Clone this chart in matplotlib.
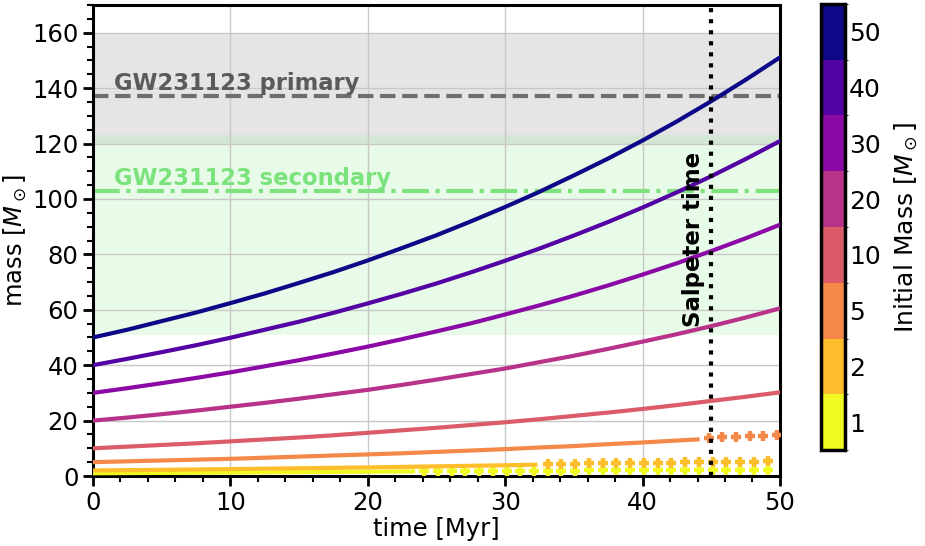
import numpy as np
import matplotlib
matplotlib.use("Agg")
import matplotlib.pyplot as plt
from matplotlib.colors import ListedColormap, BoundaryNorm
from matplotlib.ticker import AutoMinorLocator, MultipleLocator

# ---- data ----
initial_masses = [1, 2, 5, 10, 20, 30, 40, 50]
cbar_labels = ["1", "2", "5", "10", "20", "30", "40", "50"]

t_grid = [0, 2.5, 5, 7.5, 10, 12.5, 15, 17.5, 20, 22.5, 25, 27.5, 30, 32.5,
          35, 37.5, 40, 42.5, 45, 47.5, 50]
mass_50 = [50, 52.8, 55.9, 59.0, 62.4, 65.9, 69.7, 73.6, 77.8, 82.3, 86.9,
           91.9, 97.1, 102.6, 108.5, 114.6, 121.1, 128.0, 135.3, 143.0, 151.1]
mass_40 = [40, 42.3, 44.7, 47.2, 49.9, 52.8, 55.7, 58.9, 62.3, 65.8, 69.5,
           73.5, 77.7, 82.1, 86.8, 91.7, 96.9, 102.4, 108.2, 114.4, 120.9]
mass_30 = [30, 31.7, 33.5, 35.4, 37.4, 39.6, 41.8, 44.2, 46.7, 49.4, 52.2,
           55.1, 58.3, 61.6, 65.1, 68.8, 72.7, 76.8, 81.2, 85.8, 90.7]
mass_20 = [20, 21.1, 22.3, 23.6, 25.0, 26.4, 27.9, 29.5, 31.1, 32.9, 34.8,
           36.8, 38.8, 41.1, 43.4, 45.9, 48.5, 51.2, 54.1, 57.2, 60.5]
mass_10 = [10, 10.6, 11.2, 11.8, 12.5, 13.2, 13.9, 14.7, 15.6, 16.5, 17.4,
           18.4, 19.4, 20.5, 21.7, 22.9, 24.2, 25.6, 27.1, 28.6, 30.2]

t_line_5 = [0, 2.5, 5, 7.5, 10, 12.5, 15, 17.5, 20, 22.5, 25, 27.5, 30, 32.5,
            35, 37.5, 40, 42.5, 44.0]
mass_line_5 = [5, 5.3, 5.6, 5.9, 6.2, 6.6, 7.0, 7.4, 7.8, 8.2, 8.7, 9.2, 9.7,
               10.3, 10.8, 11.5, 12.1, 12.8, 13.2]
t_mark_5 = [44.8, 45.8, 46.8, 47.8, 48.8, 49.8]
mass_mark_5 = [13.6, 13.9, 14.2, 14.4, 14.6, 14.8]

t_line_2 = [0, 2.5, 5, 7.5, 10, 12.5, 15, 17.5, 20, 22.5, 25, 27.5, 30, 32.2]
mass_line_2 = [2, 2.11, 2.23, 2.36, 2.5, 2.64, 2.79, 2.95, 3.11, 3.29, 3.48,
               3.68, 3.88, 4.07]
t_mark_2 = [33.1, 34.1, 35.1, 36.1, 37.1, 38.1, 39.1, 40.1, 41.1, 42.1, 43.1,
            44.1, 45.1, 46.1, 47.1, 48.1, 49.1]
mass_mark_2 = [4.4, 4.45, 4.5, 4.55, 4.6, 4.65, 4.7, 4.75, 4.8, 4.85, 4.9,
               4.95, 5.0, 5.05, 5.1, 5.2, 5.3]

t_line_1 = [0, 2.5, 5, 7.5, 10, 12.5, 15, 17.5, 20, 22.5, 23.3]
mass_line_1 = [1, 1.06, 1.12, 1.18, 1.25, 1.32, 1.39, 1.47, 1.56, 1.65, 1.67]
t_mark_1 = [24.1, 25.1, 26.1, 27.1, 28.1, 29.1, 30.1, 31.1, 32.1, 33.1, 34.1,
            35.1, 36.1, 37.1, 38.1, 39.1, 40.1, 41.1, 42.1, 43.1, 44.1, 45.1,
            46.1, 47.1, 48.1, 49.1]
mass_mark_1 = [1.75, 1.77, 1.79, 1.81, 1.83, 1.85, 1.87, 1.89, 1.91, 1.93, 1.95,
               1.97, 1.99, 2.01, 2.03, 2.05, 2.07, 2.09, 2.11, 2.13, 2.15, 2.17,
               2.19, 2.21, 2.23, 2.25]

primary_mass = 137
primary_band = (120, 160)
secondary_mass = 103
secondary_band = (51, 123)
salpeter_time = 45.0

# ---- styling ----
colors = plt.cm.plasma(np.linspace(1, 0, 8))  # index 0 -> M0=1 (yellow)
cmap = ListedColormap(colors)
norm = BoundaryNorm(np.arange(0, 9), cmap.N)

fig = plt.figure(figsize=(9.25, 5.46), dpi=100)
ax = fig.add_axes([0.1005, 0.1282, 0.7427, 0.8626])

ax.axhspan(*primary_band, color="gray", alpha=0.2, lw=0, zorder=1)
ax.axhspan(*secondary_band, color="lightgreen", alpha=0.2, lw=0, zorder=1)
ax.axhline(primary_mass, color="#6e6e6e", ls="--", lw=3, zorder=2)
ax.axhline(secondary_mass, color="#7fe27f", ls="-.", lw=3, zorder=2)
ax.text(1.5, 139.3, "GW231123 primary", color="#5a5a5a", fontsize=16.3,
        fontweight="bold", va="baseline", ha="left", zorder=3)
ax.text(1.5, 105.0, "GW231123 secondary", color="#7be37b", fontsize=16.3,
        fontweight="bold", va="baseline", ha="left", zorder=3)

lw = 3
mk = dict(ls="none", marker="+", ms=7.5, mew=3.2, zorder=4)
ax.plot(t_line_1, mass_line_1, color=colors[0], lw=lw, zorder=4)
ax.plot(t_mark_1, mass_mark_1, color=colors[0], **mk)
ax.plot(t_line_2, mass_line_2, color=colors[1], lw=lw, zorder=4)
ax.plot(t_mark_2, mass_mark_2, color=colors[1], **mk)
ax.plot(t_line_5, mass_line_5, color=colors[2], lw=lw, zorder=4)
ax.plot(t_mark_5, mass_mark_5, color=colors[2], **mk)
for i, m in zip(range(3, 8), [mass_10, mass_20, mass_30, mass_40, mass_50]):
    ax.plot(t_grid, m, color=colors[i], lw=lw, zorder=4)

ax.axvline(salpeter_time, color="black", ls=":", lw=3, zorder=5)
ax.text(43.7, 85.5, "Salpeter time", rotation=90, fontsize=16.5, fontweight="bold",
        ha="center", va="center", zorder=6)

ax.set_xlim(0, 50)
ax.set_ylim(0, 170)
ax.xaxis.set_major_locator(MultipleLocator(10))
ax.yaxis.set_major_locator(MultipleLocator(20))
ax.xaxis.set_minor_locator(AutoMinorLocator())
ax.yaxis.set_minor_locator(AutoMinorLocator())
ax.grid(True, which="major", color="#c8c8c8", lw=1)
ax.tick_params(which="major", labelsize=17.5, length=7, width=2)
ax.tick_params(which="minor", length=4, width=1.5)
for s in ax.spines.values():
    s.set_linewidth(2.2)
ax.set_xlabel("time [Myr]", fontsize=17.5, labelpad=2)
ax.set_ylabel(r"mass [$M_\odot$]", fontsize=17.5, labelpad=2)

cax = fig.add_axes([0.8876, 0.1758, 0.026, 0.8169])
sm = plt.cm.ScalarMappable(norm=norm, cmap=cmap)
cb = fig.colorbar(sm, cax=cax, ticks=np.arange(8) + 0.5)
cb.ax.set_yticklabels(cbar_labels)
cb.ax.tick_params(length=0, labelsize=18, pad=3)
cb.outline.set_linewidth(2.5)
cb.set_label(r"Initial Mass [$M_\odot$]", fontsize=18, labelpad=8)

fig.savefig("out.png", dpi=100)
